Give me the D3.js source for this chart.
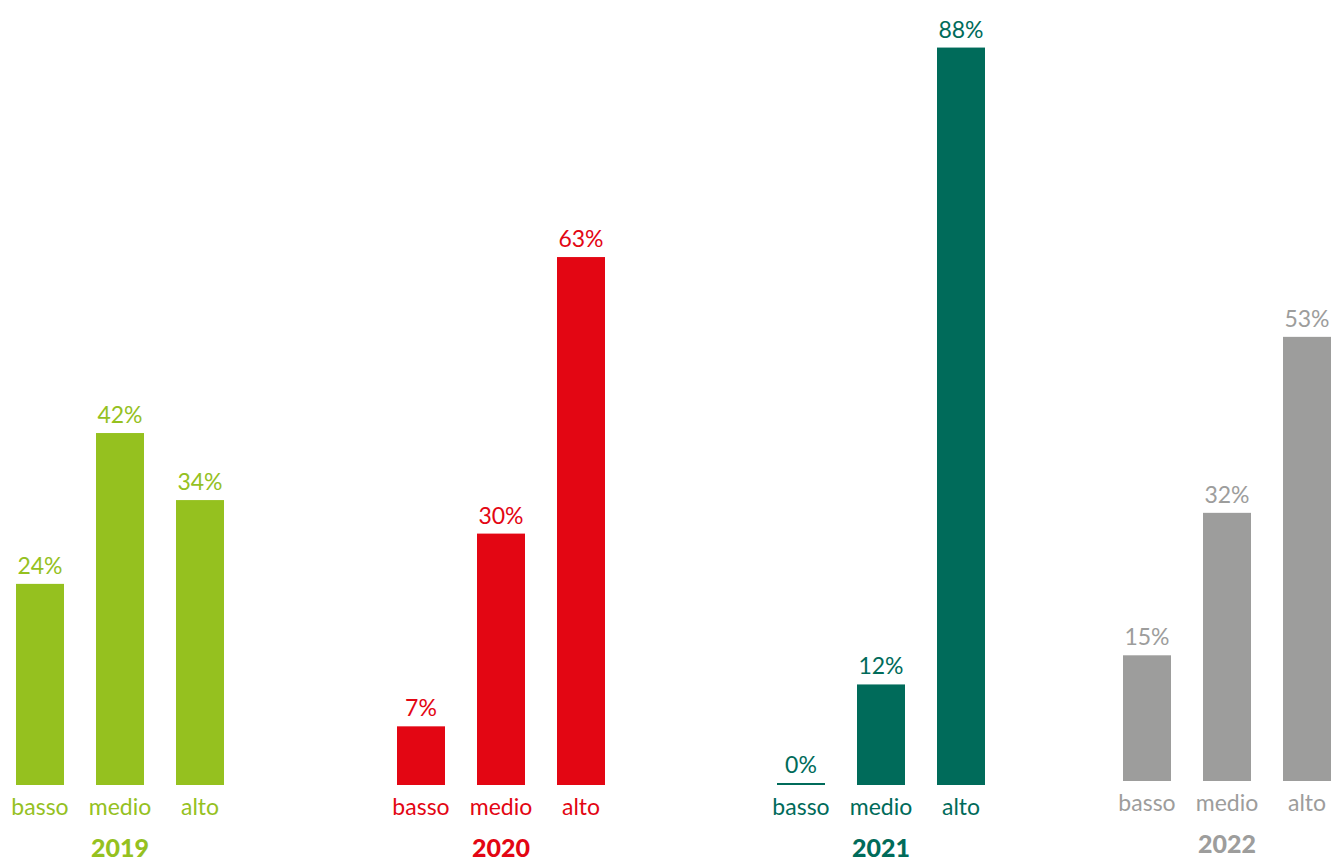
<!DOCTYPE html>
<html>
<head>
<meta charset="utf-8">
<script src="https://cdn.jsdelivr.net/npm/d3@7"></script>
<style>
  html, body { margin: 0; padding: 0; background: #fff; }
  svg { display: block; }
  text { font-family: Lato, "Open Sans", sans-serif; }
</style>
</head>
<body>
<svg id="chart" width="1333" height="861"></svg>
<script>
// Share of respondents by level, per year
const years = ["2019", "2020", "2021", "2022"];
const levels = ["basso", "medio", "alto"];
const values2019 = [24, 42, 34];
const values2020 = [7, 30, 63];
const values2021 = [0, 12, 88];
const values2022 = [15, 32, 53];
const seriesByYear = [values2019, values2020, values2021, values2022];
const yearColors = ["#95c11f", "#e30613", "#006b5a", "#9d9d9c"];

const svg = d3.select("#chart");

// Layout of the four year panels
const groupLeft = d3.scaleOrdinal().domain(years).range([16, 397, 777, 1123]);
const groupBase = d3.scaleOrdinal().domain(years).range([785, 785, 785, 781]);
const color = d3.scaleOrdinal().domain(years).range(yearColors);

// Bars inside a panel
const xInner = d3.scaleBand().domain(levels).range([0, 208]).paddingInner(0.4).paddingOuter(0);
// bar height from percentage
const h = d3.scaleLinear().domain([0, 100]).range([0, 838]);

years.forEach((yr, gi) => {
  const vals = seriesByYear[gi];
  const base = groupBase(yr);
  const g = svg.append("g").attr("transform", `translate(${groupLeft(yr)},0)`);
  const data = levels.map((l, i) => ({ level: l, value: vals[i] }));
  const bw = xInner.bandwidth();

  g.selectAll("rect.bar").data(data).join("rect")
    .attr("class", "bar")
    .attr("x", d => xInner(d.level))
    .attr("y", d => base - h(d.value))
    .attr("width", bw)
    .attr("height", d => h(d.value))
    .attr("fill", color(yr));

  // zero values still show a thin baseline stroke
  g.selectAll("line.zero").data(data.filter(d => d.value === 0)).join("line")
    .attr("class", "zero")
    .attr("x1", d => xInner(d.level))
    .attr("x2", d => xInner(d.level) + bw)
    .attr("y1", base - 1)
    .attr("y2", base - 1)
    .attr("stroke", color(yr))
    .attr("stroke-width", 2);

  g.selectAll("text.val").data(data).join("text")
    .attr("class", "val")
    .attr("x", d => xInner(d.level) + bw / 2)
    .attr("y", d => base - Math.max(h(d.value), 2) - 10)
    .attr("text-anchor", "middle")
    .attr("font-size", 23)
    .attr("font-weight", 400)
    .attr("fill", color(yr))
    .text(d => d.value + "%");

  g.selectAll("text.cat").data(data).join("text")
    .attr("class", "cat")
    .attr("x", d => xInner(d.level) + bw / 2)
    .attr("y", base + 30)
    .attr("text-anchor", "middle")
    .attr("font-size", 23)
    .attr("font-weight", 400)
    .attr("fill", color(yr))
    .text(d => d.level);

  g.append("text")
    .attr("x", xInner("medio") + bw / 2)
    .attr("y", base + 72)
    .attr("text-anchor", "middle")
    .attr("font-size", 25)
    .attr("font-weight", 900)
    .attr("fill", color(yr))
    .text(yr);
});
</script>
</body>
</html>
